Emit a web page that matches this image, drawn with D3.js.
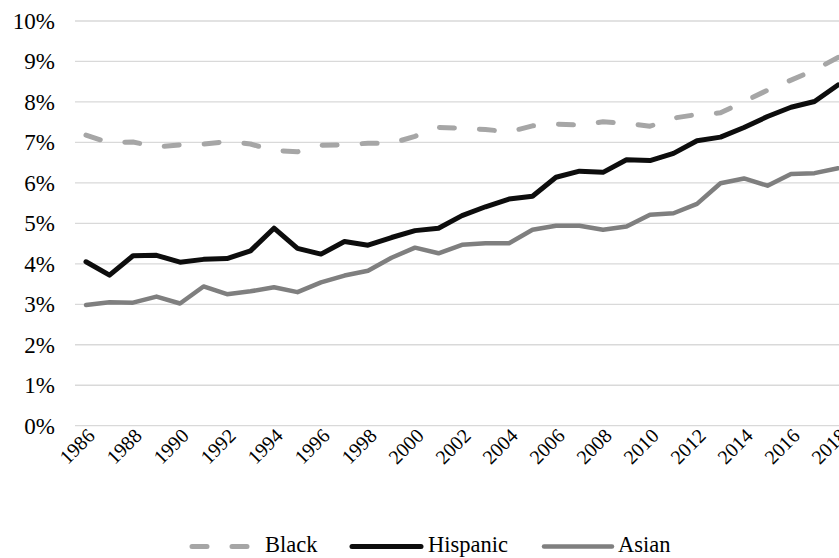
<!DOCTYPE html>
<html>
<head>
<meta charset="utf-8">
<script src="https://cdn.jsdelivr.net/npm/d3@7"></script>
<style>
  body { margin: 0; background: #fff; }
  svg { display: block; }
  text { font-family: "Liberation Serif", "Times New Roman", serif; fill: #000; }
</style>
</head>
<body>
<svg id="chart" width="839" height="558"></svg>
<script>
const years = d3.range(1986, 2019);
const black = [7.18, 6.99, 7.01, 6.89, 6.94, 6.96, 7.02, 6.96, 6.80, 6.77, 6.93, 6.94, 6.98, 6.98, 7.15, 7.37, 7.35, 7.32, 7.26, 7.41, 7.45, 7.43, 7.51, 7.47, 7.40, 7.60, 7.69, 7.73, 8.01, 8.29, 8.54, 8.79, 9.10];
const hispanic = [4.05, 3.72, 4.20, 4.21, 4.04, 4.11, 4.13, 4.32, 4.88, 4.38, 4.24, 4.55, 4.46, 4.65, 4.82, 4.88, 5.19, 5.41, 5.60, 5.67, 6.14, 6.29, 6.26, 6.57, 6.55, 6.73, 7.04, 7.13, 7.37, 7.64, 7.87, 8.01, 8.42];
const asian = [2.98, 3.05, 3.04, 3.19, 3.02, 3.44, 3.25, 3.32, 3.42, 3.30, 3.54, 3.71, 3.83, 4.15, 4.40, 4.26, 4.47, 4.51, 4.51, 4.84, 4.94, 4.94, 4.84, 4.92, 5.21, 5.25, 5.48, 5.99, 6.11, 5.93, 6.22, 6.24, 6.36];
const yTicks = [0, 1, 2, 3, 4, 5, 6, 7, 8, 9, 10];
const xTickYears = d3.range(1986, 2019, 2);
const seriesNames = ["Black", "Hispanic", "Asian"];

const svg = d3.select("#chart");
const x = d3.scalePoint().domain(years).range([74.25, 849.75]).padding(0.5);
const y = d3.scaleLinear().domain([0, 10]).range([425.7, 21]);

// gridlines
svg.append("g").selectAll("line").data(yTicks).join("line")
  .attr("x1", 75).attr("x2", 839)
  .attr("y1", d => y(d)).attr("y2", d => y(d))
  .attr("stroke", "#d9d9d9").attr("stroke-width", 1.3);

// y axis labels
const yAxis = d3.axisLeft(y).tickValues(yTicks).tickFormat(d => d + "%").tickSize(0).tickPadding(0);
const ga = svg.append("g").attr("transform", "translate(55,0)").call(yAxis);
ga.select(".domain").remove();
ga.selectAll("text").attr("font-size", 23).attr("font-family", "Liberation Serif, serif").attr("fill", "#000");

// x labels
svg.append("g").selectAll("text").data(xTickYears).join("text")
  .attr("transform", d => `translate(${x(d) + 10},${437}) rotate(-45)`)
  .attr("text-anchor", "end")
  .attr("font-size", 20)
  .text(d => d);

const series = [
  { name: seriesNames[0], values: black, color: "#a6a6a6", width: 5, dash: "15,25" },
  { name: seriesNames[1], values: hispanic, color: "#0d0d0d", width: 5, dash: null },
  { name: seriesNames[2], values: asian, color: "#7f7f7f", width: 4.5, dash: null }
];

const line = d3.line().x((d, i) => x(years[i])).y(d => y(d));

series.slice().reverse().forEach(s => {
  svg.append("path")
    .datum(s.values)
    .attr("d", line)
    .attr("fill", "none")
    .attr("stroke", s.color)
    .attr("stroke-width", s.width)
    .attr("stroke-linejoin", "round")
    .attr("stroke-linecap", "round")
    .attr("stroke-dasharray", s.dash);
});

// legend
const legendItems = [
  { s: series[0], x1: 192, x2: 253, tx: 265 },
  { s: series[1], x1: 352, x2: 421, tx: 428 },
  { s: series[2], x1: 544, x2: 612, tx: 618 }
];
const lg = svg.append("g");
legendItems.forEach(it => {
  lg.append("line")
    .attr("x1", it.x1).attr("x2", it.x2).attr("y1", 546.5).attr("y2", 546.5)
    .attr("stroke", it.s.color).attr("stroke-width", it.s.width)
    .attr("stroke-linecap", "round")
    .attr("stroke-dasharray", it.s.dash);
  lg.append("text").attr("x", it.tx).attr("y", 552).attr("font-size", 22.5).text(it.s.name);
});
</script>
</body>
</html>
